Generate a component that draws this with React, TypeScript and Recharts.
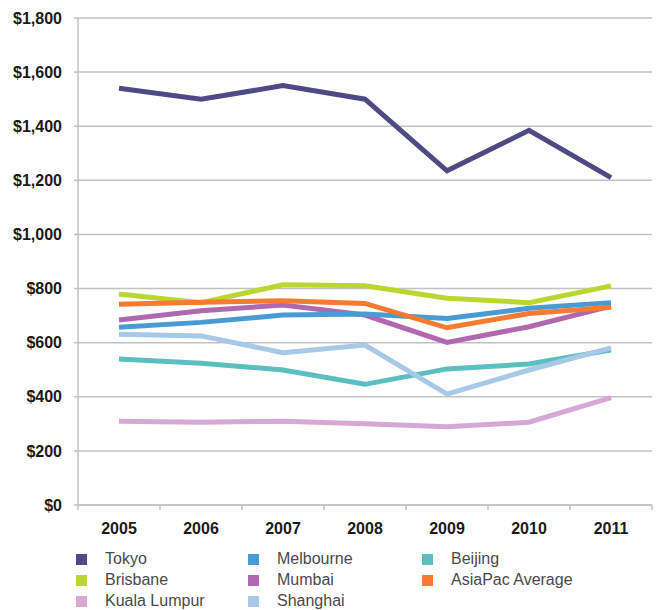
import React from 'react';
import { LineChart, Line, XAxis, YAxis, CartesianGrid } from 'recharts';

const years = ['2005', '2006', '2007', '2008', '2009', '2010', '2011'];
const yTicks = [0, 200, 400, 600, 800, 1000, 1200, 1400, 1600, 1800];

const tokyo = [1540, 1500, 1550, 1500, 1235, 1385, 1210];
const brisbane = [780, 748, 814, 810, 764, 748, 810];
const kualaLumpur = [310, 306, 310, 300, 289, 306, 397];
const melbourne = [657, 675, 702, 706, 689, 727, 748];
const mumbai = [684, 718, 739, 702, 601, 659, 735];
const shanghai = [631, 625, 563, 591, 410, 499, 581];
const beijing = [540, 524, 499, 446, 503, 521, 573];
const asiaPac = [742, 749, 755, 745, 655, 708, 731];

type Series = { key: string; name: string; color: string; values: number[] };

// legend order (column by column)
const series: Series[] = [
  { key: 'tokyo', name: 'Tokyo', color: '#4f4a83', values: tokyo },
  { key: 'brisbane', name: 'Brisbane', color: '#bcd631', values: brisbane },
  { key: 'kuala', name: 'Kuala Lumpur', color: '#d5a9d3', values: kualaLumpur },
  { key: 'melbourne', name: 'Melbourne', color: '#4a9ad4', values: melbourne },
  { key: 'mumbai', name: 'Mumbai', color: '#b068b1', values: mumbai },
  { key: 'shanghai', name: 'Shanghai', color: '#a8c8e8', values: shanghai },
  { key: 'beijing', name: 'Beijing', color: '#5bbfbf', values: beijing },
  { key: 'asiapac', name: 'AsiaPac Average', color: '#f47b30', values: asiaPac },
];

// paint order: later lines sit on top
const drawOrder = ['kuala', 'beijing', 'shanghai', 'mumbai', 'melbourne', 'brisbane', 'asiapac', 'tokyo'];

const data = years.map((year, i) => {
  const row: { [k: string]: string | number } = { year };
  series.forEach(s => {
    row[s.key] = s.values[i];
  });
  return row;
});

const fmt = (v: number) => '$' + v.toLocaleString('en-US');

const GRID = '#c2c2c2';
const FONT = '"Liberation Sans", Arial, sans-serif';
const PLOT_LEFT = 78;
const PLOT_RIGHT = 652;
const BAND = (PLOT_RIGHT - PLOT_LEFT) / years.length;

const XTick: React.FC<any> = ({ x, y, payload, index }) => {
  const axisY = y - 18;
  return (
    <g>
      <line x1={x + BAND / 2} x2={x + BAND / 2} y1={axisY} y2={axisY + 5} stroke={GRID} strokeWidth={1.5} />
      {index === 0 && (
        <line x1={x - BAND / 2} x2={x - BAND / 2} y1={axisY} y2={axisY + 5} stroke={GRID} strokeWidth={1.5} />
      )}
      <text x={x} y={y} dy="0.71em" textAnchor="middle" fill="#1a1a1a" fontSize={16} fontWeight="bold" fontFamily={FONT}>
        {payload.value}
      </text>
    </g>
  );
};

const columns = [series.slice(0, 3), series.slice(3, 6), series.slice(6, 8)];
const columnLeft = [76, 248, 422];

export default function App() {
  return (
    <div style={{ position: 'absolute', left: 0, top: 0, width: 659, height: 610, background: '#fff', overflow: 'hidden' }}>
      <LineChart width={659} height={610} data={data} margin={{ top: 18, right: 7, left: 0, bottom: 65 }}>
        <CartesianGrid vertical={false} stroke={GRID} strokeWidth={1.5} />
        <XAxis
          dataKey="year"
          height={40}
          padding={{ left: BAND / 2, right: BAND / 2 }}
          axisLine={{ stroke: GRID, strokeWidth: 1.5 }}
          tickLine={false}
          tickSize={4}
          tickMargin={14}
          tick={<XTick />}
          interval={0}
        />
        <YAxis
          width={PLOT_LEFT}
          domain={[0, 1800]}
          ticks={yTicks}
          tickFormatter={fmt}
          axisLine={{ stroke: GRID, strokeWidth: 1.5 }}
          tickLine={{ stroke: GRID, strokeWidth: 1.5 }}
          tickSize={4}
          tickMargin={12}
          tick={{ fill: '#1a1a1a', fontSize: 16, fontWeight: 'bold', fontFamily: FONT }}
        />
        {drawOrder.map(k => {
          const s = series.find(it => it.key === k)!;
          return (
            <Line
              key={s.key}
              dataKey={s.key}
              name={s.name}
              stroke={s.color}
              strokeWidth={5}
              dot={false}
              activeDot={false}
              isAnimationActive={false}
            />
          );
        })}
      </LineChart>
      {columns.map((col, ci) =>
        col.map((s, ri) => (
          <div
            key={s.key}
            style={{
              position: 'absolute',
              left: columnLeft[ci],
              top: 549 + ri * 21,
              height: 20,
              display: 'flex',
              alignItems: 'center',
              fontFamily: FONT,
              fontSize: 16,
              lineHeight: '18px',
              color: '#4a4a4a',
              whiteSpace: 'nowrap',
            }}
          >
            <span style={{ display: 'inline-block', width: 11, height: 11, background: s.color, marginRight: 18 }} />
            {s.name}
          </div>
        ))
      )}
    </div>
  );
}
